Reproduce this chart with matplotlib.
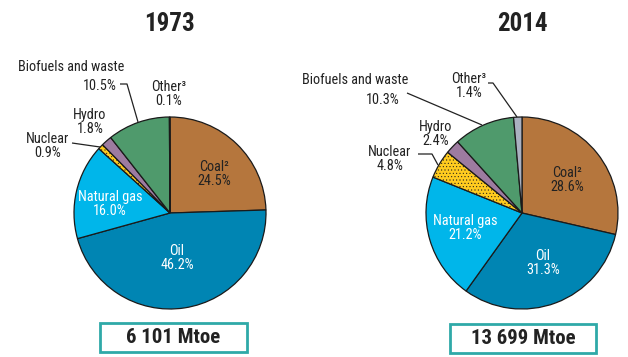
import matplotlib
matplotlib.use("Agg")
import matplotlib.pyplot as plt
from matplotlib.patches import Rectangle
from matplotlib import font_manager

names = {f.name for f in font_manager.fontManager.ttflist}
def pick(cands):
    return [c for c in cands if c in names] + ['DejaVu Sans']
REG = pick(["Liberation Sans Narrow", "Roboto Condensed", "Archivo Narrow"])
BOLD = pick(["Liberation Sans Narrow", "Roboto Condensed", "Barlow Semi Condensed", "Archivo Narrow"])
plt.rcParams['font.family'] = REG
plt.rcParams['hatch.linewidth'] = 0.35

# ---- data ----
categories = ["Coal²", "Oil", "Natural gas", "Nuclear", "Hydro", "Biofuels and waste", "Other³"]
share_1973 = [24.5, 46.2, 16.0, 0.9, 1.8, 10.5, 0.1]
share_2014 = [28.6, 31.3, 21.2, 4.8, 2.4, 10.3, 1.4]
years = ["1973", "2014"]
totals = ["6 101 Mtoe", "13 699 Mtoe"]
colors = ["#B5763D", "#0085B3", "#00B6EA", "#FFCB1F", "#9D7BA0", "#4F9A6C", "#AAB1C1"]

W, H = 628, 357
fig = plt.figure(figsize=(W / 100, H / 100), dpi=100)
ax = fig.add_axes([0, 0, 1, 1])

def Y(y):
    return H - y

R = 96
centers = [(170, 213), (522, 213)]
for vals, (cx, cy) in zip([share_1973, share_2014], centers):
    wedges, _ = ax.pie(vals, colors=colors, startangle=90, counterclock=False,
                       center=(cx, Y(cy)), radius=R, frame=True,
                       wedgeprops=dict(edgecolor="#1a1a1a", linewidth=0.9))
    wedges[3].set_hatch('.....')
ax.set_xlim(0, W)
ax.set_ylim(0, H)
ax.set_aspect('equal')
ax.axis('off')

# titles
for yr, (cx, cy) in zip(years, centers):
    ax.text(cx, Y(24), yr, ha='center', va='center', fontsize=18, fontweight='bold',
            family=BOLD, color='#222222')

# total boxes
boxes = [(100, 323, 147, 29), (450, 324, 146, 29)]
for tot, (bx, by, bw, bh) in zip(totals, boxes):
    ax.add_patch(Rectangle((bx, Y(by + bh)), bw, bh, fill=False, edgecolor="#2FA9A8", linewidth=2))
    ax.text(bx + bw / 2, Y(by + bh / 2), tot, ha='center', va='center', fontsize=15,
            fontweight='bold', family=BOLD, color='#222222')

fs = 10.3
def lab(x, y, name, val, color='#222222', ha='center'):
    ax.text(x, Y(y), name + "\n" + val, ha=ha, va='center', fontsize=fs, color=color,
            linespacing=1.08)

def line(pts):
    xs = [p[0] for p in pts]
    ys = [Y(p[1]) for p in pts]
    ax.plot(xs, ys, color='#222222', linewidth=0.9, solid_capstyle='butt')

v = share_1973
ax.text(71, Y(67), categories[5], ha='center', va='center', fontsize=fs, color='#222222')
ax.text(117, Y(86), f"{v[5]:.1f}%", ha='right', va='center', fontsize=fs, color='#222222')
line([(120, 84), (127, 84), (138, 122)])
lab(169, 94, categories[6], f"{v[6]:.1f}%")
lab(90, 122, categories[4], f"{v[4]:.1f}%")
lab(48, 146, categories[3], f"{v[3]:.1f}%")
line([(72, 143), (100, 147)])
lab(214, 174, categories[0], f"{v[0]:.1f}%")
lab(110, 204, categories[2], f"{v[2]:.1f}%", color='white')
lab(177, 258, categories[1], f"{v[1]:.1f}%", color='white')

v = share_2014
ax.text(355, Y(80), categories[5], ha='center', va='center', fontsize=fs, color='#222222')
ax.text(400, Y(100), f"{v[5]:.1f}%", ha='right', va='center', fontsize=fs, color='#222222')
line([(407, 93), (482, 125)])
lab(469, 86, categories[6], f"{v[6]:.1f}%")
line([(488, 83), (493, 83), (517, 117)])
lab(436, 134, categories[4], f"{v[4]:.1f}%")
lab(390, 159, categories[3], f"{v[3]:.1f}%")
line([(418, 154), (432, 154), (438, 165)])
lab(567, 180, categories[0], f"{v[0]:.1f}%")
lab(465, 228, categories[2], f"{v[2]:.1f}%", color='white')
lab(543, 263, categories[1], f"{v[1]:.1f}%", color='white')

fig.savefig("out.png", dpi=100)
